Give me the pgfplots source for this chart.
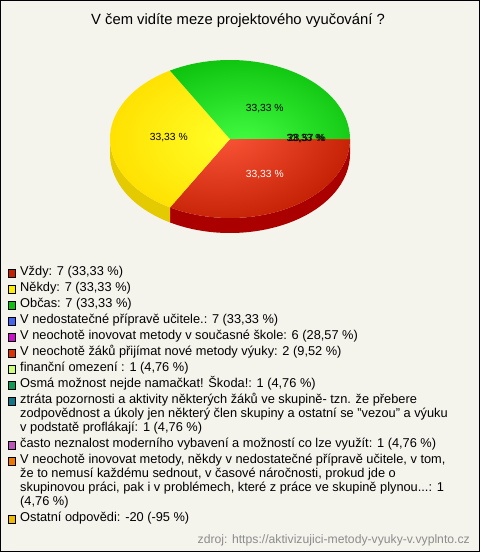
\documentclass[border=0pt]{standalone}
\usepackage{pgfplots}
\pgfplotsset{compat=1.18}
\usepackage{pgfplotstable}
\usepackage{fontspec}
\setmainfont{Liberation Sans}

\definecolor{bg}{HTML}{F4F3EC}
\definecolor{cA}{HTML}{C42000}
\definecolor{cB}{HTML}{FFEE00}
\definecolor{cC}{HTML}{10C010}
\definecolor{cD}{HTML}{4466EE}
\definecolor{cE}{HTML}{CC11CC}
\definecolor{cF}{HTML}{DD3300}
\definecolor{cG}{HTML}{CCFF77}
\definecolor{cH}{HTML}{119955}
\definecolor{cI}{HTML}{117788}
\definecolor{cJ}{HTML}{BB55BB}
\definecolor{cK}{HTML}{EE7700}
\definecolor{cL}{HTML}{EEBB00}
\definecolor{redIn}{HTML}{FF5A3C}
\definecolor{redOut}{HTML}{C01C00}
\definecolor{redSide}{HTML}{AA0000}
\definecolor{yelIn}{HTML}{FFFF28}
\definecolor{yelOut}{HTML}{FFE000}
\definecolor{yelSide}{HTML}{E4CA00}
\definecolor{grnIn}{HTML}{44FF44}
\definecolor{grnOut}{HTML}{0CC00C}

% pie slices (percent)
\pgfplotstableread{
idx pct
1 33.33
2 33.33
3 33.33
4 33.33
5 28.57
}\pietable

\newcommand{\legfont}{\fontsize{12.8}{14}\selectfont}
\newcommand{\leg}[3]{%
  \filldraw[fill=#1,draw=black,line width=0.8pt] (8.7,{-(#2)+3.6}) rectangle (15.7,{-(#2)-3.6});
  \node[anchor=mid west,font=\legfont,inner sep=0pt] at (20,{-(#2)}) {#3};}
\newcommand{\legline}[2]{%
  \node[anchor=mid west,font=\legfont,inner sep=0pt] at (20,{-(#1)}) {#2};}

\begin{document}
\begin{tikzpicture}[x=1pt,y=1pt]
\fill[bg] (0,0) rectangle (480,-552);
\draw[black,line width=1.4pt] (0.7,-0.7) rectangle (479.3,-551.3);
\node[font=\fontsize{14.8}{17}\selectfont] at (238,-21) {V čem vidíte meze projektového vyučování ?};

\pgfplotstablegetelem{0}{pct}\of\pietable \let\pA\pgfplotsretval
\pgfplotstablegetelem{1}{pct}\of\pietable \let\pB\pgfplotsretval
\pgfplotstablegetelem{2}{pct}\of\pietable \let\pC\pgfplotsretval
\pgfmathsetmacro{\aA}{0}
\pgfmathsetmacro{\aB}{\aA-3.6*\pA}
\pgfmathsetmacro{\aC}{\aB-3.6*\pB}
\pgfmathsetmacro{\aD}{\aC-3.6*\pC}
\pgfmathsetmacro{\mA}{(\aA+\aB)/2}
\pgfmathsetmacro{\mB}{(\aB+\aC)/2}
\pgfmathsetmacro{\mC}{(\aC+\aD)/2}
\pgfmathsetmacro{\yS}{max(\aC,-180)}

\begin{axis}[x=120pt,y=79pt,hide axis,xmin=-1.05,xmax=1.05,ymin=-1.3,ymax=1.05,
  anchor=origin,at={(230pt,-139pt)},clip=false]
% side walls (front half)
\fill[redSide] (axis cs:{cos(\aA)},{sin(\aA)}) arc[start angle=\aA,end angle=\aB,x radius=120pt,y radius=79pt]
  -- ++(0pt,-15pt) arc[start angle=\aB,end angle=\aA,x radius=120pt,y radius=79pt] -- cycle;
\fill[yelSide] (axis cs:{cos(\aB)},{sin(\aB)}) arc[start angle=\aB,end angle=\yS,x radius=120pt,y radius=79pt]
  -- ++(0pt,-15pt) arc[start angle=\yS,end angle=\aB,x radius=120pt,y radius=79pt] -- cycle;
% top faces
\begin{scope}
\clip (axis cs:0,0) -- (axis cs:{cos(\aA)},{sin(\aA)}) arc[start angle=\aA,end angle=\aB,x radius=120pt,y radius=79pt] -- cycle;
\shade[inner color=redIn,outer color=redOut] (axis cs:-0.1,0.15) ellipse[x radius=150pt,y radius=105pt];
\end{scope}
\begin{scope}
\clip (axis cs:0,0) -- (axis cs:{cos(\aB)},{sin(\aB)}) arc[start angle=\aB,end angle=\aC,x radius=120pt,y radius=79pt] -- cycle;
\shade[inner color=yelIn,outer color=yelOut] (axis cs:0,0) ellipse[x radius=125pt,y radius=85pt];
\end{scope}
\begin{scope}
\clip (axis cs:0,0) -- (axis cs:{cos(\aC)},{sin(\aC)}) arc[start angle=\aC,end angle=\aD,x radius=120pt,y radius=79pt] -- cycle;
\shade[inner color=grnIn,outer color=grnOut] (axis cs:0.1,-0.1) ellipse[x radius=135pt,y radius=95pt];
\end{scope}
\draw[cF,line width=0.8pt] (axis cs:0.5,0) -- (axis cs:1,0);
% labels
\node[font=\fontsize{10.3}{12}\selectfont,text=white] at (axis cs:{0.58*cos(\mA)},{0.52*sin(\mA)}) {33,33 \%};
\node[font=\fontsize{10.3}{12}\selectfont] at (axis cs:{0.51*cos(\mB)},{0.51*sin(\mB)+0.02}) {33,33 \%};
\node[font=\fontsize{10.3}{12}\selectfont] at (axis cs:{0.58*cos(\mC)},{0.44*sin(\mC)}) {33,33 \%};
\node[font=\fontsize{10.3}{12}\selectfont] at (axis cs:{0.63*cos(\aD)},{0.63*sin(\aD)}) {33,33 \%};
\node[font=\fontsize{10.3}{12}\selectfont] at (axis cs:{0.64*cos(\aD)},{0.64*sin(\aD)}) {28,57 \%};
\end{axis}

\leg{cA}{273.3}{Vždy: 7 (33,33 \%)}
\leg{cB}{289.3}{Někdy: 7 (33,33 \%)}
\leg{cC}{305.3}{Občas: 7 (33,33 \%)}
\leg{cD}{321.3}{V nedostatečné přípravě učitele.: 7 (33,33 \%)}
\leg{cE}{337.3}{V neochotě inovovat metody v současné škole: 6 (28,57 \%)}
\leg{cF}{353.3}{V neochotě žáků přijímat nové metody výuky: 2 (9,52 \%)}
\leg{cG}{369.3}{finanční omezení : 1 (4,76 \%)}
\leg{cH}{385.3}{Osmá možnost nejde namačkat! Škoda!: 1 (4,76 \%)}
\leg{cI}{401.3}{ztráta pozornosti a aktivity některých žáků ve skupině- tzn. že přebere}
\legline{415.3}{zodpovědnost a úkoly jen některý člen skupiny a ostatní se "vezou" a výuku}
\legline{429.3}{v podstatě proflákají: 1 (4,76 \%)}
\leg{cJ}{445.3}{často neznalost moderního vybavení a možností co lze využít: 1 (4,76 \%)}
\leg{cK}{461.3}{V neochotě inovovat metody, někdy v nedostatečné přípravě učitele, v tom,}
\legline{475.3}{že to nemusí každému sednout, v časové náročnosti, prokud jde o}
\legline{489.3}{skupinovou práci, pak i v problémech, které z práce ve skupině plynou...: 1}
\legline{503.3}{(4,76 \%)}
\leg{cL}{519.3}{Ostatní odpovědi: -20 (-95 \%)}

\node[anchor=mid east,font=\fontsize{12.2}{14}\selectfont,text=black!45,inner sep=0pt] at (470,-541) {zdroj: https://aktivizujici-metody-vyuky-v.vyplnto.cz};
\end{tikzpicture}
\end{document}
